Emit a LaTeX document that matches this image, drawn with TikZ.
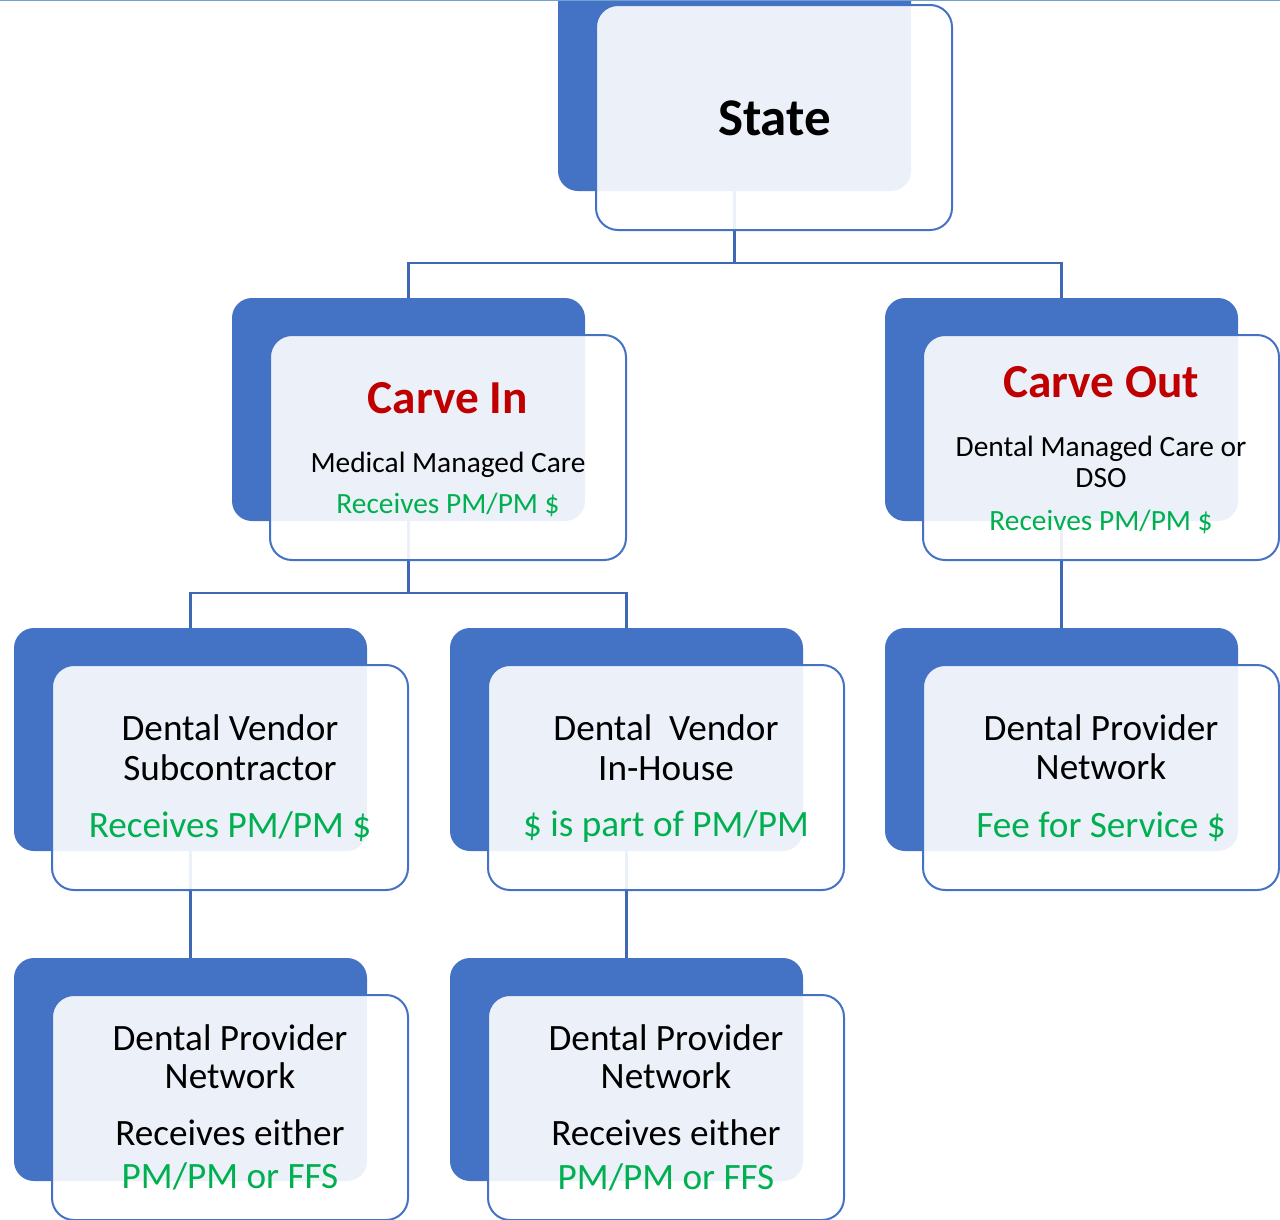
\documentclass[tikz,border=0pt]{standalone}
\usepackage{fontspec}
\setmainfont{Carlito}
\definecolor{boxblue}{HTML}{4472C4}
\definecolor{lineblue}{HTML}{3F68B4}
\definecolor{topline}{HTML}{6FA3CF}
\definecolor{cred}{HTML}{C00000}
\definecolor{cgreen}{HTML}{00B050}
\begin{document}
\begin{tikzpicture}[x=1pt,y=-1pt,
  backbox/.style={fill=boxblue, rounded corners=20pt, minimum width=353pt, minimum height=223pt, anchor=north west, inner sep=0pt, outer sep=0pt},
  frontbox/.style={fill=white, fill opacity=0.9, draw=boxblue, line width=2pt, rounded corners=22pt, minimum width=356pt, minimum height=225pt, anchor=north west, inner sep=0pt, outer sep=0pt},
  conn/.style={draw=lineblue, line width=2.5pt},
  txt/.style={anchor=base, inner sep=0pt, text=black},
  big/.style={txt, font=\fontsize{37.2}{44}\selectfont},
  small/.style={txt, font=\fontsize{29.4}{35}\selectfont},
  head/.style={txt, font=\fontsize{47.3}{56}\selectfont\bfseries, text=cred},
  green/.style={text=cgreen}]
\useasboundingbox (0,0) rectangle (1280,1219);

% back boxes
\node[backbox] (bS)  at (558,-32) {};
\node[backbox] (bCI) at (232,298) {};
\node[backbox] (bCO) at (885,298) {};
\node[backbox] (b31) at (14,628) {};
\node[backbox] (b32) at (450,628) {};
\node[backbox] (b33) at (885,628) {};
\node[backbox] (b41) at (14,958) {};
\node[backbox] (b42) at (450,958) {};

% connectors
\coordinate (j1) at (bS.south |- 0,263);
\coordinate (j2) at (bCI.south |- 0,593);
\draw[conn] (bS.south) -- (j1);
\draw[conn] (bCI.north) |- (j1) -| (bCO.north);
\draw[conn] (bCI.south) -- (j2);
\draw[conn] (b31.north) |- (j2) -| (b32.north);
\draw[conn] (bCO.south) -- (b33.north);
\draw[conn] (b31.south) -- (b41.north);
\draw[conn] (b32.south) -- (b42.north);

% front boxes
\node[frontbox] (fS)  at (596,5) {};
\node[frontbox] (fCI) at (270,335) {};
\node[frontbox] (fCO) at (923,335) {};
\node[frontbox] (f31) at (52,665) {};
\node[frontbox] (f32) at (488,665) {};
\node[frontbox] (f33) at (923,665) {};
\node[frontbox] (f41) at (52,995) {};
\node[frontbox] (f42) at (488,995) {};

% texts
\node[txt, font=\fontsize{53}{63}\selectfont\bfseries] (tS) at (774.5,135) {State};

\node[head] (tCI1) at (448,413) {Carve In};
\node[small] (tCI2) at (448,472) {Medical Managed Care};
\node[small, green] (tCI3) at (448,513) {Receives PM/PM \$};

\node[head] (tCO1) at (1101,397) {Carve Out};
\node[small] (tCO2) at (1101,456) {Dental Managed Care or};
\node[small] (tCO3) at (1101,487) {DSO};
\node[small, green] (tCO4) at (1101,530) {Receives PM/PM \$};

\node[big] (t31a) at (230,740) {Dental Vendor};
\node[big] (t31b) at (230,780) {Subcontractor};
\node[big, green] (t31c) at (230,837) {Receives PM/PM \$};

\node[big] (t32a) at (666,740) {Dental\ \ Vendor};
\node[big] (t32b) at (666,780) {In-House};
\node[big, green] (t32c) at (666,836) {\$ is part of PM/PM};

\node[big] (t33a) at (1101,740) {Dental Provider};
\node[big] (t33b) at (1101,779) {Network};
\node[big, green] (t33c) at (1101,837) {Fee for Service \$};

\node[big] (t41a) at (230,1050) {Dental Provider};
\node[big] (t41b) at (230,1088) {Network};
\node[big] (t41c) at (230,1145) {Receives either};
\node[big, green] (t41d) at (230,1188) {PM/PM or FFS};

\node[big] (t42a) at (666,1050) {Dental Provider};
\node[big] (t42b) at (666,1088) {Network};
\node[big] (t42c) at (666,1145) {Receives either};
\node[big, green] (t42d) at (666,1189) {PM/PM or FFS};

% thin top rule
\coordinate (tl) at (0,0.6);
\coordinate (tr) at (1280,0.6);
\draw[topline, line width=1.2pt] (tl) -- (tr);
\end{tikzpicture}
\end{document}
